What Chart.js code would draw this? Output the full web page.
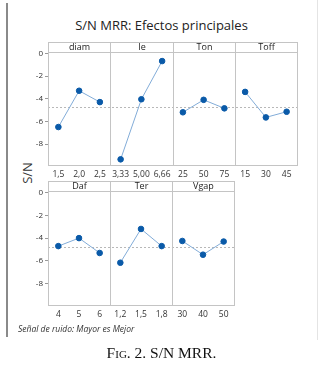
<!DOCTYPE html>
<html>
<head>
<meta charset="utf-8">
<script src="https://cdn.jsdelivr.net/npm/chart.js@4.4.0/dist/chart.umd.min.js"></script>
<style>
  html, body { margin: 0; padding: 0; background: #fff; }
  body { width: 323px; height: 367px; position: relative; overflow: hidden; font-family: 'Open Sans', 'DejaVu Sans', sans-serif; }
  .frameL { position: absolute; left: 6px; top: 3px; width: 2px; height: 334px; background: #8a8a8a; }
  .frameR { position: absolute; left: 317px; top: 0; width: 1px; height: 340px; background: #e4e4e4; }
  .title { position: absolute; left: 0; width: 323px; top: 16px; text-align: center; font-size: 13px; color: #222; }
  .ylab { position: absolute; left: 12px; top: 164px; width: 30px; text-align: center; font-size: 13px; color: #333; transform: rotate(-90deg); }
  .note { position: absolute; left: 18px; top: 323px; font-size: 8.5px; font-style: italic; color: #333; }
  .caption { position: absolute; left: 0; width: 323px; top: 344px; text-align: center; font-family: 'Liberation Serif', serif; font-size: 15.5px; color: #111; font-variant: small-caps; }
  canvas { position: absolute; left: 0; }
</style>
</head>
<body>
<div class="frameL"></div>
<div class="frameR"></div>
<div class="title">S/N MRR: Efectos principales</div>
<div class="ylab">S/N</div>
<canvas id="top" width="323" height="185" style="top:0"></canvas>
<canvas id="bot" width="323" height="145" style="top:175px"></canvas>
<div class="note">Señal de ruido: Mayor es Mejor</div>
<div class="caption">Fig. 2. S/N MRR.</div>
<script>
// ─── DATA ────────────────────────────────────────────────────
const topFactors = ['diam', 'Ie', 'Ton', 'Toff'];
const topLevels  = [['1,5', '2,0', '2,5'], ['3,33', '5,00', '6,66'], ['25', '50', '75'], ['15', '30', '45']];
const topMeans   = [[-6.5, -3.3, -4.3], [-9.35, -4.05, -0.68], [-5.2, -4.1, -4.85], [-3.4, -5.65, -5.15]];

const botFactors = ['Daf', 'Ter', 'Vgap'];
const botLevels  = [['4', '5', '6'], ['1,2', '1,5', '1,8'], ['30', '40', '50']];
const botMeans   = [[-4.7, -4.0, -5.3], [-6.15, -3.2, -4.7], [-4.25, -5.45, -4.3]];

const grandMean = -4.75;
const yTicks = [-8, -6, -4, -2, 0];
const yMin = -9.85, yMax = 0.12;

// ─── PANEL PLUGIN: borders, separators, headers, mean line ───
const panelPlugin = {
    id: 'panels',
    beforeDatasetsDraw(chart, args, opts) {
        const { ctx, chartArea: a, scales } = chart;
        const n = opts.factors.length;
        const w = (a.right - a.left) / n;
        const yRef = scales.y.getPixelForValue(grandMean);
        ctx.save();
        // mean reference line
        ctx.strokeStyle = '#b8b8b8';
        ctx.lineWidth = 1;
        ctx.setLineDash([2, 2]);
        ctx.beginPath();
        ctx.moveTo(a.left, Math.round(yRef) + 0.5);
        ctx.lineTo(a.right, Math.round(yRef) + 0.5);
        ctx.stroke();
        ctx.setLineDash([]);
        // panel frames + headers
        ctx.strokeStyle = '#c4c4c4';
        const hTop = a.top - opts.header;
        for (let i = 0; i < n; i++) {
            const x0 = Math.round(a.left + i * w) + 0.5;
            const x1 = Math.round(a.left + (i + 1) * w) + 0.5;
            ctx.strokeRect(x0, Math.round(hTop) + 0.5, x1 - x0, Math.round(a.bottom) - Math.round(hTop));
            ctx.beginPath();
            ctx.moveTo(x0, Math.round(a.top) + 0.5);
            ctx.lineTo(x1, Math.round(a.top) + 0.5);
            ctx.stroke();
            ctx.fillStyle = '#222';
            ctx.font = '9px "Open Sans", sans-serif';
            ctx.textAlign = 'center';
            ctx.textBaseline = 'middle';
            ctx.fillText(opts.factors[i], (x0 + x1) / 2, hTop + opts.header / 2 + 0.5);
        }
        ctx.restore();
    }
};

function buildDatasets(levels, means) {
    const nCat = levels.length * 3;
    return means.map((m, p) => {
        const data = new Array(nCat).fill(null);
        m.forEach((v, k) => { data[p * 3 + k] = v; });
        return {
            data,
            borderColor: '#82acd8',
            borderWidth: 1,
            pointBackgroundColor: '#0a5aa8',
            pointBorderColor: '#0a5aa8',
            pointRadius: 2.8,
            spanGaps: false
        };
    });
}

function makeChart(id, factors, levels, means, pad, xH) {
    return new Chart(document.getElementById(id), {
        type: 'line',
        data: { labels: levels.flat(), datasets: buildDatasets(levels, means) },
        plugins: [panelPlugin],
        options: {
            responsive: false,
            animation: false,
            layout: { padding: pad },
            plugins: {
                legend: { display: false },
                tooltip: { enabled: false },
                panels: { factors, header: 10 }
            },
            scales: {
                x: {
                    offset: true,
                    grid: { display: false, drawTicks: true, tickLength: 3, color: '#999' },
                    border: { display: false },
                    ticks: { color: '#333', font: { size: 8.5, family: 'Open Sans' }, padding: 1, maxRotation: 0, autoSkip: false },
                    afterFit: s => { s.height = xH; }
                },
                y: {
                    min: yMin, max: yMax,
                    afterBuildTicks: s => { s.ticks = yTicks.map(v => ({ value: v })); },
                    grid: { display: true, drawOnChartArea: false, tickLength: 3, color: '#999' },
                    border: { display: false },
                    ticks: { color: '#333', font: { size: 8, family: 'Open Sans' }, padding: 2 },
                    afterFit: s => { s.width = 48 - pad.left; }
                }
            }
        }
    });
}

makeChart('top', topFactors, topLevels, topMeans, { left: 0, right: 26, top: 52, bottom: 0 }, 20);
makeChart('bot', botFactors, botLevels, botMeans, { left: 0, right: 89, top: 16, bottom: 0 }, 15);
</script>
</body>
</html>
